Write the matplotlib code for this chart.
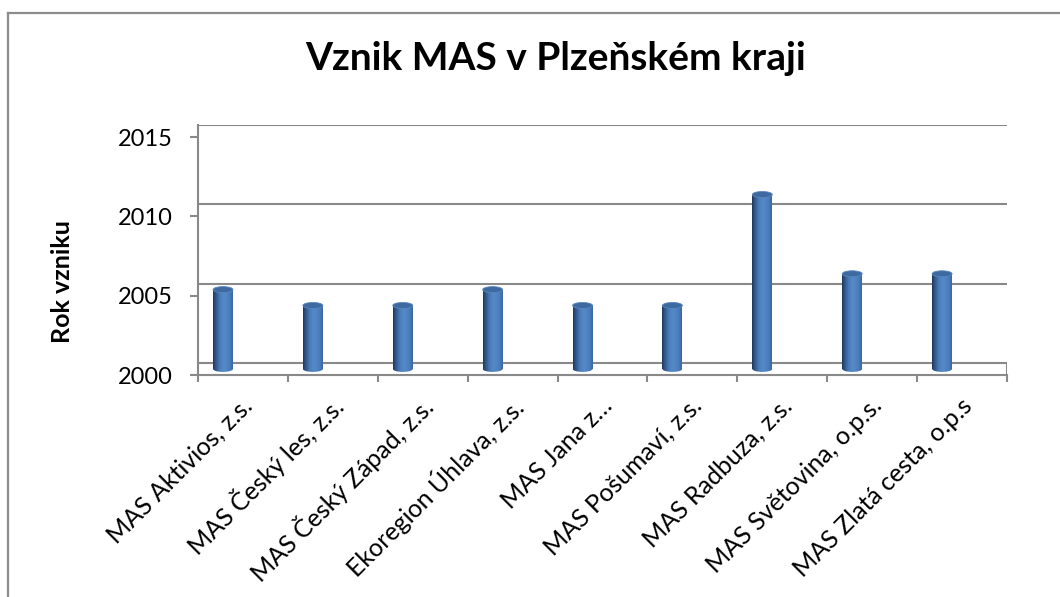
import matplotlib
matplotlib.use("Agg")
import matplotlib.pyplot as plt
import numpy as np
from matplotlib.colors import LinearSegmentedColormap
from matplotlib.lines import Line2D
from matplotlib.patches import Ellipse
from matplotlib.transforms import ScaledTranslation

plt.rcParams["font.family"] = ["Lato", "DejaVu Sans"]

categories = [
    "MAS Aktivios, z.s.",
    "MAS Český les, z.s.",
    "MAS Český Západ, z.s.",
    "Ekoregion Úhlava, z.s.",
    "MAS Jana z…",
    "MAS Pošumaví, z.s.",
    "MAS Radbuza, z.s.",
    "MAS Světovina, o.p.s.",
    "MAS Zlatá cesta, o.p.s",
]
years = [2005, 2004, 2004, 2005, 2004, 2004, 2011, 2006, 2006]
y_ticks = [2000, 2005, 2010, 2015]

title = "Vznik MAS v Plzeňském kraji"
y_label = "Rok vzniku"

W, H = 1060, 597
DEPTH = 0.77  # vertical offset of the back wall, in years
GRID = "#898989"

fig = plt.figure(figsize=(W / 100, H / 100), dpi=100)
ax = fig.add_axes([198 / W, (H - 375) / H, (1007 - 198) / W, 250 / H])

for s in ("top", "right"):
    ax.spines[s].set_visible(False)
for s in ("left", "bottom"):
    ax.spines[s].set_color(GRID)
    ax.spines[s].set_linewidth(1.5)

ax.set_yticks(y_ticks)
ax.set_yticklabels([str(t) for t in y_ticks], fontsize=17)
ax.set_xticks(np.arange(len(categories) + 1))
ax.set_xticklabels([])
ax.tick_params(axis="y", length=6, width=1.5, color=GRID, pad=12)
ax.tick_params(axis="x", length=5, width=1.5, color=GRID)

# back wall gridlines and floor
ax.hlines([t + DEPTH for t in y_ticks], 0, len(categories), color=GRID, lw=1.5, zorder=1)
ax.vlines(len(categories), 2000, 2000 + DEPTH, color=GRID, lw=1.5, zorder=1)

# cylinders
cyl = LinearSegmentedColormap.from_list(
    "cyl",
    [(0, "#1f3758"), (0.12, "#2f5486"), (0.35, "#4b7dbb"),
     (0.55, "#558ac9"), (0.85, "#4a7cbc"), (1, "#3c679f")],
)
grad = np.linspace(0, 1, 64).reshape(1, -1)
bw = 0.222
xs = np.arange(len(categories)) + 0.278
base = 2000 + DEPTH / 2
cap_h = 0.38
bars = ax.bar(xs, np.array(years) - 2000, bottom=base, width=bw,
              color="none", edgecolor="none", zorder=3)
for bar, x, yv in zip(bars, xs, years):
    top = yv + DEPTH / 2
    bottom_ell = Ellipse((x, base), bw, cap_h, facecolor="none", edgecolor="none")
    ax.add_patch(bottom_ell)
    for clip in (bar, bottom_ell):
        im = ax.imshow(grad, cmap=cyl, aspect="auto", extent=(x - bw / 2, x + bw / 2, base - cap_h, top),
                       zorder=3, interpolation="bilinear")
        im.set_clip_path(clip)
    ax.add_patch(Ellipse((x, top), bw, cap_h, facecolor="#3d6aa0", edgecolor="#5a86bd",
                         lw=0.6, zorder=4))

ax.set_xlim(0, len(categories))
ax.set_ylim(2000, 2015 + DEPTH)

# category labels
off = ScaledTranslation(6 / 100, -27 / 100, fig.dpi_scale_trans)
for i, lab in enumerate(categories):
    ax.text(i + 0.5, 0, lab, transform=ax.get_xaxis_transform() + off, rotation=45,
            rotation_mode="anchor", ha="right", va="center", fontsize=18)

fig.text(556 / W, 1 - 58 / H, title, ha="center", va="center", fontsize=28, fontweight="bold")
fig.text(62 / W, 1 - 282 / H, y_label, ha="center", va="center", rotation=90,
         fontsize=18, fontweight="bold")

# chart area border
fig.add_artist(Line2D([8 / W, 8 / W], [0, 1 - 13 / H], color="#8c8c8c", lw=1.6))
fig.add_artist(Line2D([8 / W, 1], [1 - 13 / H, 1 - 13 / H], color="#8c8c8c", lw=1.6))

fig.savefig("out.png", dpi=100)
